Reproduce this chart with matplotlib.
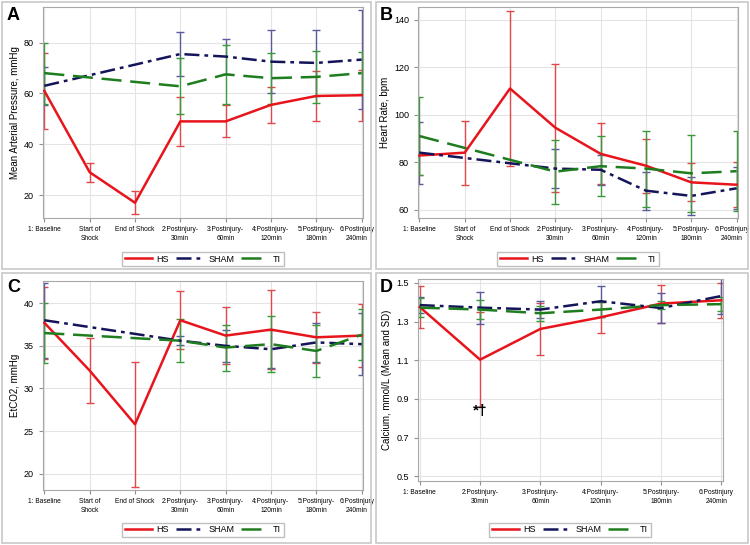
import matplotlib.pyplot as plt
from matplotlib.patches import Rectangle
from matplotlib.lines import Line2D
from matplotlib.transforms import ScaledTranslation

plt.rcParams['font.family'] = ['Liberation Sans', 'DejaVu Sans']

# categories
cats_full = ["1: Baseline", "Start of\nShock", "End of Shock", "2:Postinjury-\n30min",
             "3:Postinjury-\n60min", "4:Postinjury-\n120min", "5:Postinjury-\n180min",
             "6:Postinjury\n240min"]
cats_short = ["1: Baseline", "2:Postinjury-\n30min", "3:Postinjury-\n60min",
              "4:Postinjury-\n120min", "5:Postinjury-\n180min", "6:Postinjury\n240min"]

# A: mean arterial pressure
map_hs = [61, 29, 17, 49, 49, 55.5, 59, 59.3]
map_hs_sd = [15, 3.8, 4.5, 9.7, 6.3, 7, 10, 10]
map_sham = [63, None, None, 75.5, 74.5, 72.5, 72, 73.3]
map_sham_sd = [7.5, None, None, 8.5, 6.8, 12.5, 13, 19.5]
map_ti = [68, None, None, 62.8, 67.5, 66, 66.5, 68]
map_ti_sd = [12, None, None, 11, 11.5, 10, 10.3, 8.3]

# B: heart rate
hr_hs = [82.8, 84, 111, 94.5, 83.5, 78.5, 71.5, 70.5]
hr_hs_sd = [8.3, 13.5, 32.5, 27, 12.8, 11.3, 8, 9.5]
hr_sham = [84, None, None, 77.3, 76.8, 68, 65.8, 69]
hr_sham_sd = [13, None, None, 8.3, 6.3, 8, 8, 8.8]
hr_ti = [91, None, None, 76, 78.3, 77.3, 75.3, 76.2]
hr_ti_sd = [16.5, None, None, 13.5, 12.5, 16, 16.3, 16.8]

# C: EtCO2
co2_hs = [37.7, 32.1, 25.8, 38, 36.2, 36.9, 36, 36.2]
co2_hs_sd = [4.2, 3.8, 7.3, 3.4, 3.3, 4.6, 3, 3.7]
co2_sham = [38, None, None, 35.6, 35, 34.6, 35.4, 35.2]
co2_sham_sd = [4.4, None, None, 0.5, 1.9, 2.2, 2.3, 3.6]
co2_ti = [36.5, None, None, 35.6, 34.8, 35.2, 34.4, 36.3]
co2_ti_sd = [3.5, None, None, 2.5, 2.7, 3.3, 3, 3]

# D: calcium
ca_hs = [1.375, 1.103, 1.262, 1.322, 1.393, 1.41]
ca_hs_sd = [0.11, 0.245, 0.135, 0.08, 0.098, 0.09]
ca_sham = [1.385, 1.372, 1.362, 1.405, 1.37, 1.432]
ca_sham_sd = [0.043, 0.083, 0.046, 0.08, 0.077, 0.095]
ca_ti = [1.372, 1.362, 1.343, 1.362, 1.385, 1.39]
ca_ti_sd = [0.05, 0.05, 0.04, 0.04, 0.02, 0.035]

W, H = 750, 545
fig = plt.figure(figsize=(W / 100, H / 100), dpi=100)

line_col = {'HS': '#e8141c', 'SHAM': '#14145a', 'TI': '#1e7d1e'}
err_col = {'HS': '#e0484c', 'SHAM': '#5a5aa0', 'TI': '#3a9a3a'}
styles = {'HS': '-', 'SHAM': (0, (6, 2, 1.5, 2)), 'TI': (0, (8, 3.5))}


def px_axes(l, t, r, b):
    return fig.add_axes([l / W, 1 - b / H, (r - l) / W, (b - t) / H])


def frame(l, t, r, b):
    fig.patches.append(Rectangle((l / W, 1 - b / H), (r - l) / W, (b - t) / H,
                                 transform=fig.transFigure, fill=False,
                                 edgecolor='#c8c8c8', lw=1.2))


def draw(ax, cats, series, ylim, yticks, ylabel):
    n = len(cats)
    for name, (vals, sds) in series.items():
        xs = [i for i, v in enumerate(vals) if v is not None]
        ys = [vals[i] for i in xs]
        es = [sds[i] for i in xs]
        ax.errorbar(xs, ys, yerr=es, fmt='none', ecolor=err_col[name],
                    elinewidth=1.0, capsize=3, capthick=1.0, zorder=2)
        ax.plot(xs, ys, color=line_col[name], linestyle=styles[name], lw=1.8, zorder=3)
    ax.set_xlim(-0.03, n - 1 + 0.03)
    ax.set_ylim(*ylim)
    ax.set_yticks(yticks)
    ax.set_xticks(range(n))
    ax.tick_params(axis='y', labelsize=6.5, length=3, color='#909090')
    ax.tick_params(axis='x', length=3, color='#909090', pad=3)
    labels = ax.set_xticklabels(cats, fontsize=4.8, linespacing=1.3)
    # last label is nudged left so it stays inside the panel
    last = labels[-1]
    last.set_transform(last.get_transform() + ScaledTranslation(-0.05, 0, fig.dpi_scale_trans))
    ax.grid(True, color='#e4e4e4', lw=0.8, zorder=0)
    ax.set_axisbelow(True)
    for s in ax.spines.values():
        s.set_color('#a8a8a8')
        s.set_linewidth(0.8)
    ax.set_ylabel(ylabel, fontsize=7, labelpad=3)


def legend(cx, cy):
    handles = [Line2D([], [], color=line_col[k], linestyle=styles[k], lw=1.8) for k in ['HS', 'SHAM', 'TI']]
    fig.legend(handles, ['HS', 'SHAM', 'TI'], loc='center', bbox_to_anchor=(cx / W, 1 - cy / H),
               ncol=3, fontsize=6.5, frameon=True, fancybox=False, edgecolor='#b0b0b0',
               handlelength=3.0, columnspacing=0.8, handletextpad=0.5, borderpad=0.3)


# panel frames
frame(2, 2, 371, 269)
frame(376, 2, 748, 269)
frame(2, 273, 371, 543)
frame(376, 273, 748, 543)

axA = px_axes(43, 7, 363, 218)
draw(axA, cats_full, {'HS': (map_hs, map_hs_sd), 'SHAM': (map_sham, map_sham_sd),
                      'TI': (map_ti, map_ti_sd)},
     (11, 94), [20, 40, 60, 80], 'Mean Arterial Pressure, mmHg')

axB = px_axes(418, 7, 738, 218)
draw(axB, cats_full, {'HS': (hr_hs, hr_hs_sd), 'SHAM': (hr_sham, hr_sham_sd),
                      'TI': (hr_ti, hr_ti_sd)},
     (56.5, 145.3), [60, 80, 100, 120, 140], 'Heart Rate, bpm')

axC = px_axes(43, 281, 363, 490)
draw(axC, cats_full, {'HS': (co2_hs, co2_hs_sd), 'SHAM': (co2_sham, co2_sham_sd),
                      'TI': (co2_ti, co2_ti_sd)},
     (18.1, 42.6), [20, 25, 30, 35, 40], 'EtCO2, mmHg')

axD = px_axes(418, 279, 723, 481)
draw(axD, cats_short, {'HS': (ca_hs, ca_hs_sd), 'SHAM': (ca_sham, ca_sham_sd),
                       'TI': (ca_ti, ca_ti_sd)},
     (0.476, 1.52), [0.5, 0.7, 0.9, 1.1, 1.3, 1.5], 'Calcium, mmol/L (Mean and SD)')
axD.yaxis.set_major_formatter(plt.FormatStrFormatter('%.1f'))
axD.text(1, 0.84, '*†', ha='center', va='center', fontsize=11, fontweight='bold')

legend(203, 259)
legend(578, 259)
legend(203, 530)
legend(570, 530)

for lbl, x, y in [('A', 7, 16), ('B', 380, 16), ('C', 7, 287), ('D', 380, 287)]:
    fig.text(x / W, 1 - y / H, lbl, fontsize=13, fontweight='bold', va='center', ha='left')

fig.savefig('out.png', dpi=100)
